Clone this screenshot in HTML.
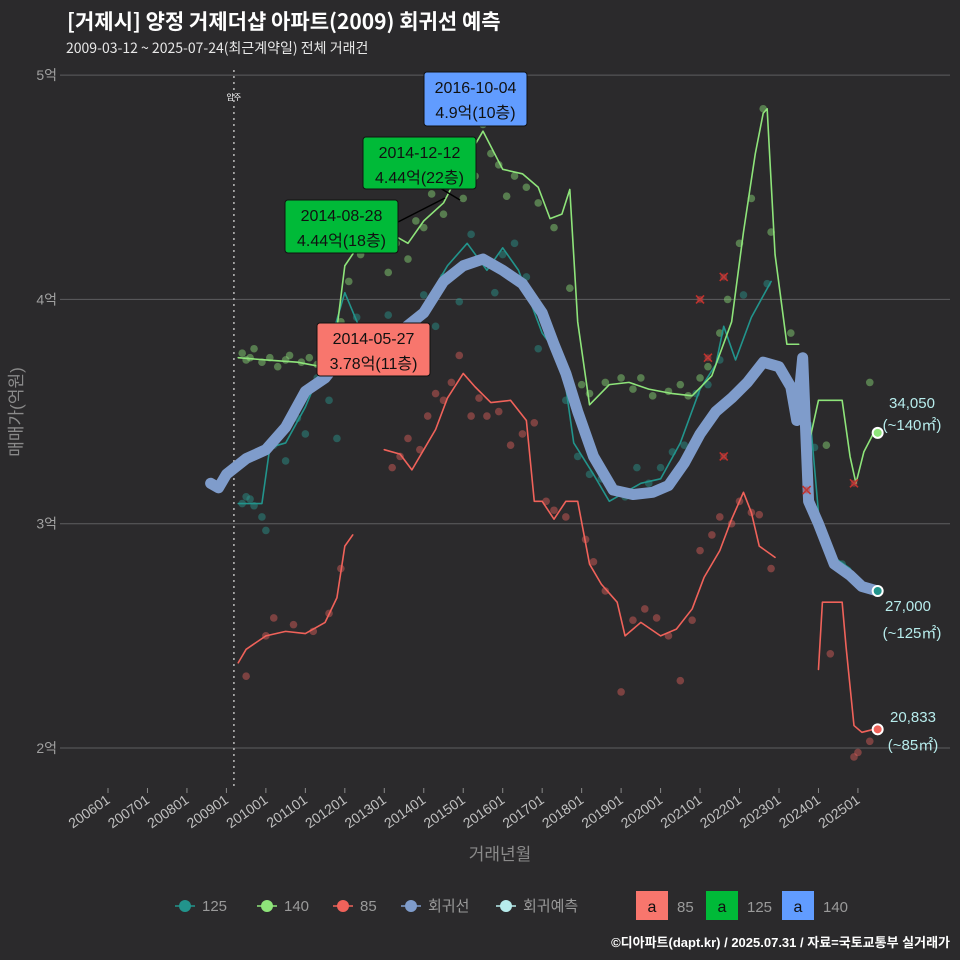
<!DOCTYPE html>
<html><head><meta charset="utf-8"><style>
html,body{margin:0;padding:0;background:#2b2a2c;}
svg{display:block;font-family:"Liberation Sans","Noto Sans CJK KR",sans-serif;}
</style></head><body>
<svg id="c" width="960" height="960" viewBox="0 0 960 960">
<rect width="960" height="960" fill="#2b2a2c"/>
<text x="67" y="29" fill="#fff" font-size="21" font-weight="bold" font-family="'Noto Sans CJK KR',sans-serif">[거제시] 양정 거제더샵 아파트(2009) 회귀선 예측</text>
<text x="66" y="53" fill="#e8e8e8" font-size="14" font-family="'Noto Sans CJK KR',sans-serif">2009-03-12 ~ 2025-07-24(최근계약일) 전체 거래건</text>
<g id="grid"></g>
<g id="marks"></g>
<g id="ann"></g>
<text transform="translate(22,412) rotate(-90)" text-anchor="middle" fill="#8a8a8a" font-size="17">매매가(억원)</text>
<text x="500" y="860" text-anchor="middle" fill="#8a8a8a" font-size="17">거래년월</text>
<g id="legend"></g>
<text x="950" y="947" text-anchor="end" fill="#fff" font-size="13" font-weight="bold">©디아파트(dapt.kr) / 2025.07.31 / 자료=국토교통부 실거래가</text>
</svg>
<script>
const yTicks=[20000,30000,40000,50000];
const yTickLabels=["2억","3억","4억","5억"];
const xTicks=[2006,2007,2008,2009,2010,2011,2012,2013,2014,2015,2016,2017,2018,2019,2020,2021,2022,2023,2024,2025];
const xTickLabels=["200601","200701","200801","200901","201001","201101","201201","201301","201401","201501","201601","201701","201801","201901","202001","202101","202201","202301","202401","202501"];
const regT=[2008.6,2008.8,2009.0,2009.5,2010.0,2010.5,2011.0,2011.5,2012.0,2012.5,2013.0,2013.5,2014.0,2014.5,2015.0,2015.5,2016.0,2016.5,2017.0,2017.3,2017.6,2017.9,2018.3,2018.8,2019.3,2019.8,2020.2,2020.6,2021.0,2021.4,2021.8,2022.2,2022.6,2023.0,2023.3,2023.45,2023.6,2023.75,2024.0,2024.4,2024.8,2025.1,2025.5];
const regV=[31800,31600,32200,32900,33300,34300,35900,36500,37600,38100,38500,38700,39400,40800,41500,41800,41300,40700,39400,38000,36700,35000,33000,31500,31300,31400,31700,32700,34000,35000,35600,36300,37200,37000,36100,34600,37400,31000,30000,28200,27700,27200,27000];
const s140T=[2009.3,2010.0,2010.8,2011.4,2011.7,2012.0,2012.5,2013.2,2013.6,2014.0,2014.5,2015.0,2015.5,2016.0,2016.5,2016.9,2017.2,2017.5,2017.7,2017.9,2018.2,2018.7,2019.2,2019.7,2020.3,2020.8,2021.3,2021.8,2022.1,2022.4,2022.6,2022.7,2022.9,2023.2,2023.5];
const s140V=[37400,37300,37200,37000,37300,41500,42800,42900,42500,43500,44300,46000,47500,45800,45600,45000,43600,43800,44900,39000,35300,36200,36300,36000,35800,35700,36600,39000,43000,46500,48300,48500,42000,38000,38000];
const s140bT=[2023.75,2024.0,2024.6,2024.8,2024.95,2025.15,2025.4];
const s140bV=[33500,35500,35500,33000,31800,33200,34050];
const s125T=[2009.3,2009.9,2010.1,2010.5,2011.0,2011.5,2012.0,2012.5,2013.0,2013.5,2014.0,2014.6,2015.1,2015.6,2016.0,2016.4,2017.0,2017.5,2017.8,2018.3,2018.7,2019.5,2020.0,2020.5,2021.0,2021.4,2021.6,2021.9,2022.3,2022.8];
const s125V=[30900,30900,33400,33600,35200,37300,40300,38200,38600,37800,39700,41500,42500,41300,42300,41300,38500,37300,33600,32200,31000,31800,32000,33600,36000,37100,38800,37300,39200,40800];
const s125bT=[2023.8,2024.0,2024.4,2024.8,2025.1,2025.5];
const s125bV=[34500,30500,28500,28000,27300,27000];
const s85T=[2009.3,2009.5,2010.0,2010.5,2011.0,2011.5,2011.8,2012.0,2012.2];
const s85V=[23800,24400,25000,25200,25100,25600,26700,29000,29500];
const s85bT=[2013.0,2013.4,2013.7,2014.0,2014.3,2014.6,2015.0,2015.3,2015.7,2016.2,2016.6,2016.8,2017.0,2017.3,2017.6,2017.9,2018.2,2018.5,2018.9,2019.1,2019.5,2020.0,2020.4,2020.8,2021.1,2021.5,2021.8,2022.1,2022.3,2022.5,2022.9];
const s85bV=[33300,33100,32400,33300,34200,35600,36700,36100,35400,35500,34600,31000,31000,30200,31000,31000,28200,27300,26500,25000,25600,25000,25300,26200,27600,28800,30200,31400,30500,29000,28500];
const s85cT=[2024.0,2024.1,2024.6,2024.7,2024.9,2025.1,2025.4];
const s85cV=[23500,26500,26500,24500,21000,20700,20833];
const dotsT140=[2009.4,2009.5,2009.6,2009.7,2009.9,2010.1,2010.3,2010.5,2010.6,2010.9,2011.1,2011.3,2011.6,2011.9,2012.1,2012.4,2012.8,2013.1,2013.3,2013.6,2013.8,2014.0,2014.2,2014.5,2014.7,2015.0,2015.2,2015.3,2015.5,2015.7,2015.9,2016.1,2016.3,2016.6,2016.9,2017.3,2017.7,2018.0,2018.2,2018.6,2019.0,2019.3,2019.5,2019.8,2020.2,2020.5,2020.7,2021.0,2021.2,2021.5,2021.7,2022.0,2022.3,2022.6,2022.8,2023.3,2024.2,2025.3];
const dotsV140=[37600,37300,37400,37800,37200,37400,37000,37300,37500,37200,37400,37100,37300,39000,40800,42000,43700,41200,42500,41800,43500,43200,44700,43800,45400,44500,46700,45500,47800,46500,46000,44600,45500,45000,44300,43200,40500,36200,35800,36300,36500,36000,36500,35700,35900,36200,35700,36500,37000,38500,40000,42500,44500,48500,43000,38500,33500,36300];
const dotsT125=[2009.4,2009.5,2009.6,2009.7,2009.9,2010.0,2010.2,2010.5,2010.8,2011.0,2011.3,2011.6,2011.8,2012.3,2012.6,2012.9,2013.1,2013.4,2013.7,2014.0,2014.3,2014.5,2014.9,2015.2,2015.5,2015.8,2016.0,2016.3,2016.6,2016.9,2017.1,2017.4,2017.6,2017.9,2018.2,2018.5,2018.8,2019.1,2019.4,2019.7,2020.0,2020.3,2020.6,2020.9,2021.2,2021.5,2022.1,2022.7,2023.9,2024.6];
const dotsV125=[30900,31200,31100,30800,30300,29700,33500,32800,34700,34000,36500,35500,33800,39200,37800,38500,39300,38000,37600,40200,38800,41000,39900,42900,41800,40300,42000,42500,41000,37800,38800,37500,35500,33000,32200,32000,31500,31200,32500,31800,32500,33200,33500,35800,36200,37300,40200,40700,33400,28200];
const dotsT85=[2009.5,2010.0,2010.2,2010.7,2011.2,2011.6,2011.9,2013.2,2013.4,2013.6,2013.9,2014.1,2014.3,2014.5,2014.7,2014.9,2015.2,2015.4,2015.6,2015.9,2016.2,2016.5,2016.8,2017.1,2017.3,2017.6,2018.1,2018.3,2018.6,2019.0,2019.3,2019.6,2019.9,2020.2,2020.5,2020.8,2021.0,2021.3,2021.5,2021.8,2022.0,2022.3,2022.5,2022.8,2024.3,2024.9,2025.0,2025.3];
const dotsV85=[23200,25000,25800,25500,25200,26000,28000,32500,33000,33800,33300,34800,35800,35500,36300,37500,34800,35600,34800,35000,33500,34000,34500,31000,30600,30300,29300,28300,27000,22500,25700,26200,25800,25000,23000,25700,28800,29500,30300,30000,31000,30500,30400,28000,24200,19600,19800,20300];
const xMarkT=[2021.0,2021.2,2021.6,2021.6,2023.7,2024.9];
const xMarkV=[40000,37400,41000,33000,31500,31800];

const NS="http://www.w3.org/2000/svg";
const X=t=>108+(t-2006)*39.47;
const Y=v=>748-(v-20000)*0.02243;
function mk(tag,attrs,parent){const e=document.createElementNS(NS,tag);for(const k in attrs)e.setAttribute(k,attrs[k]);parent.appendChild(e);return e;}
const grid=document.getElementById('grid'),marks=document.getElementById('marks'),ann=document.getElementById('ann'),lg=document.getElementById('legend');
yTicks.forEach((v,i)=>{
 const l=mk('line',{x1:60,x2:950,y1:Y(v),y2:Y(v),stroke:'#5e5e60','stroke-width':1},grid);
 
 
 const t=mk('text',{x:57,y:Y(v)+5,'text-anchor':'end',fill:'#a0a0a0','font-size':14},grid);t.textContent=yTickLabels[i];
 
 
});
xTicks.forEach((t0,i)=>{
 const x=X(t0);
 const l=mk('line',{x1:x,x2:x,y1:788,y2:793,stroke:'#8a8a8a'},grid);
 
 
 const t=mk('text',{transform:`translate(${x+3},${802}) rotate(-35)`,'text-anchor':'end',fill:'#c0c0c0','font-size':14},grid);t.textContent=xTickLabels[i];
 
 
});
const mv=mk('line',{x1:X(2009.19),x2:X(2009.19),y1:70,y2:790,stroke:'#bbb','stroke-dasharray':'2,4','stroke-width':1.5},grid);


const mvt=mk('text',{x:X(2009.19),y:100,'text-anchor':'middle',fill:'#fff','font-size':8},grid);mvt.textContent='입주';



function dots(T,V,col,name){T.forEach((t,i)=>{const c=mk('circle',{cx:X(t),cy:Y(V[i]),r:3.8,fill:col,opacity:0.45},marks);
 
 });}
dots(dotsT140,dotsV140,'#8fe07a','dot-140');
dots(dotsT125,dotsV125,'#2a9a90','dot-125');
dots(dotsT85,dotsV85,'#e0605a','dot-85');
function line(T,V,col,w,name){const p=mk('polyline',{points:T.map((t,i)=>X(t)+','+Y(V[i])).join(' '),fill:'none',stroke:col,'stroke-width':w,'stroke-linejoin':'round','stroke-linecap':'round'},marks);
 
 }
line(s85T,s85V,'#f0625a',1.6,'line-85');line(s85bT,s85bV,'#f0625a',1.6,'line-85');line(s85cT,s85cV,'#f0625a',1.6,'line-85');
line(s125T,s125V,'#22948c',1.6,'line-125');line(s125bT,s125bV,'#22948c',1.6,'line-125');
line(s140T,s140V,'#8ee47a',1.6,'line-140');line(s140bT,s140bV,'#8ee47a',1.6,'line-140');
line(regT,regV,'#7f9ccb',11,'regression-line');
xMarkT.forEach((t,i)=>{const g=mk('path',{d:`M${X(t)-4},${Y(xMarkV[i])-4}l8,8m0,-8l-8,8`,stroke:'#c0302a','stroke-width':1.6},marks);
 
 
 const c=mk('circle',{cx:X(t),cy:Y(xMarkV[i]),r:3.5,fill:'#c04040',opacity:0.5},marks);
 
 });
[[34050,'#8ee47a','140'],[27000,'#22948c','125'],[20833,'#f0625a','85']].forEach(e=>{const c=mk('circle',{cx:X(2025.5),cy:Y(e[0]),r:5,fill:e[1],stroke:'#fff','stroke-width':2},marks);
 
 });
[[912,408,'34,050'],[912,430,'(~140㎡)'],[908,611,'27,000'],[912,638,'(~125㎡)'],[913,722,'20,833'],[913,750,'(~85㎡)']].forEach(a=>{const t=mk('text',{x:a[0],y:a[1],'text-anchor':'middle',fill:'#b7ecec','font-size':15},ann);t.textContent=a[2];
 
 });
function box(x,y,w,h,col,l1,l2,name){const r=mk('rect',{x:x,y:y,width:w,height:h,rx:3,fill:col,stroke:'#111'},ann);
 
 
 const a=mk('text',{x:x+w/2,y:y+21,'text-anchor':'middle',fill:'#111','font-size':16},ann);a.textContent=l1;
 
 
 const b=mk('text',{x:x+w/2,y:y+46,'text-anchor':'middle',fill:'#111','font-size':16},ann);b.textContent=l2;
 
 }
mk('line',{x1:398,y1:222,x2:445,y2:198,stroke:'#000','stroke-width':1.5},ann);
mk('line',{x1:440,y1:188,x2:460,y2:200,stroke:'#000','stroke-width':1.5},ann);
box(424,72,103,54,'#619cff','2016-10-04','4.9억(10층)','annotation-140');
box(363,137,113,52,'#00ba38','2014-12-12','4.44억(22층)','annotation-125a');
box(285,200,113,53,'#00ba38','2014-08-28','4.44억(18층)','annotation-125b');
box(317,323,113,53,'#f8766d','2014-05-27','3.78억(11층)','annotation-85');
const li=[[185,'#22948c','125'],[267,'#8ee47a','140'],[343,'#f0625a','85'],[411,'#7f9ccb','회귀선'],[506,'#b7ecec','회귀예측']];
li.forEach(a=>{const g=mk('g',{},lg);
 
 
 mk('line',{x1:a[0]-10,x2:a[0]+10,y1:906,y2:906,stroke:a[1],'stroke-width':1.5},g);
 mk('circle',{cx:a[0],cy:906,r:6,fill:a[1]},g);
 const t=mk('text',{x:a[0]+17,y:911,fill:'#9a9a9a','font-size':15},g);t.textContent=a[2];});
[[636,'#f8766d','85'],[706,'#00ba38','125'],[782,'#619cff','140']].forEach(a=>{const g=mk('g',{},lg);
 
 
 mk('rect',{x:a[0],y:891,width:32,height:29,fill:a[1]},g);
 const t=mk('text',{x:a[0]+16,y:912,'text-anchor':'middle',fill:'#111','font-size':16},g);t.textContent='a';
 const u=mk('text',{x:a[0]+41,y:912,fill:'#9a9a9a','font-size':15},g);u.textContent=a[2];});
</script>
</body></html>
